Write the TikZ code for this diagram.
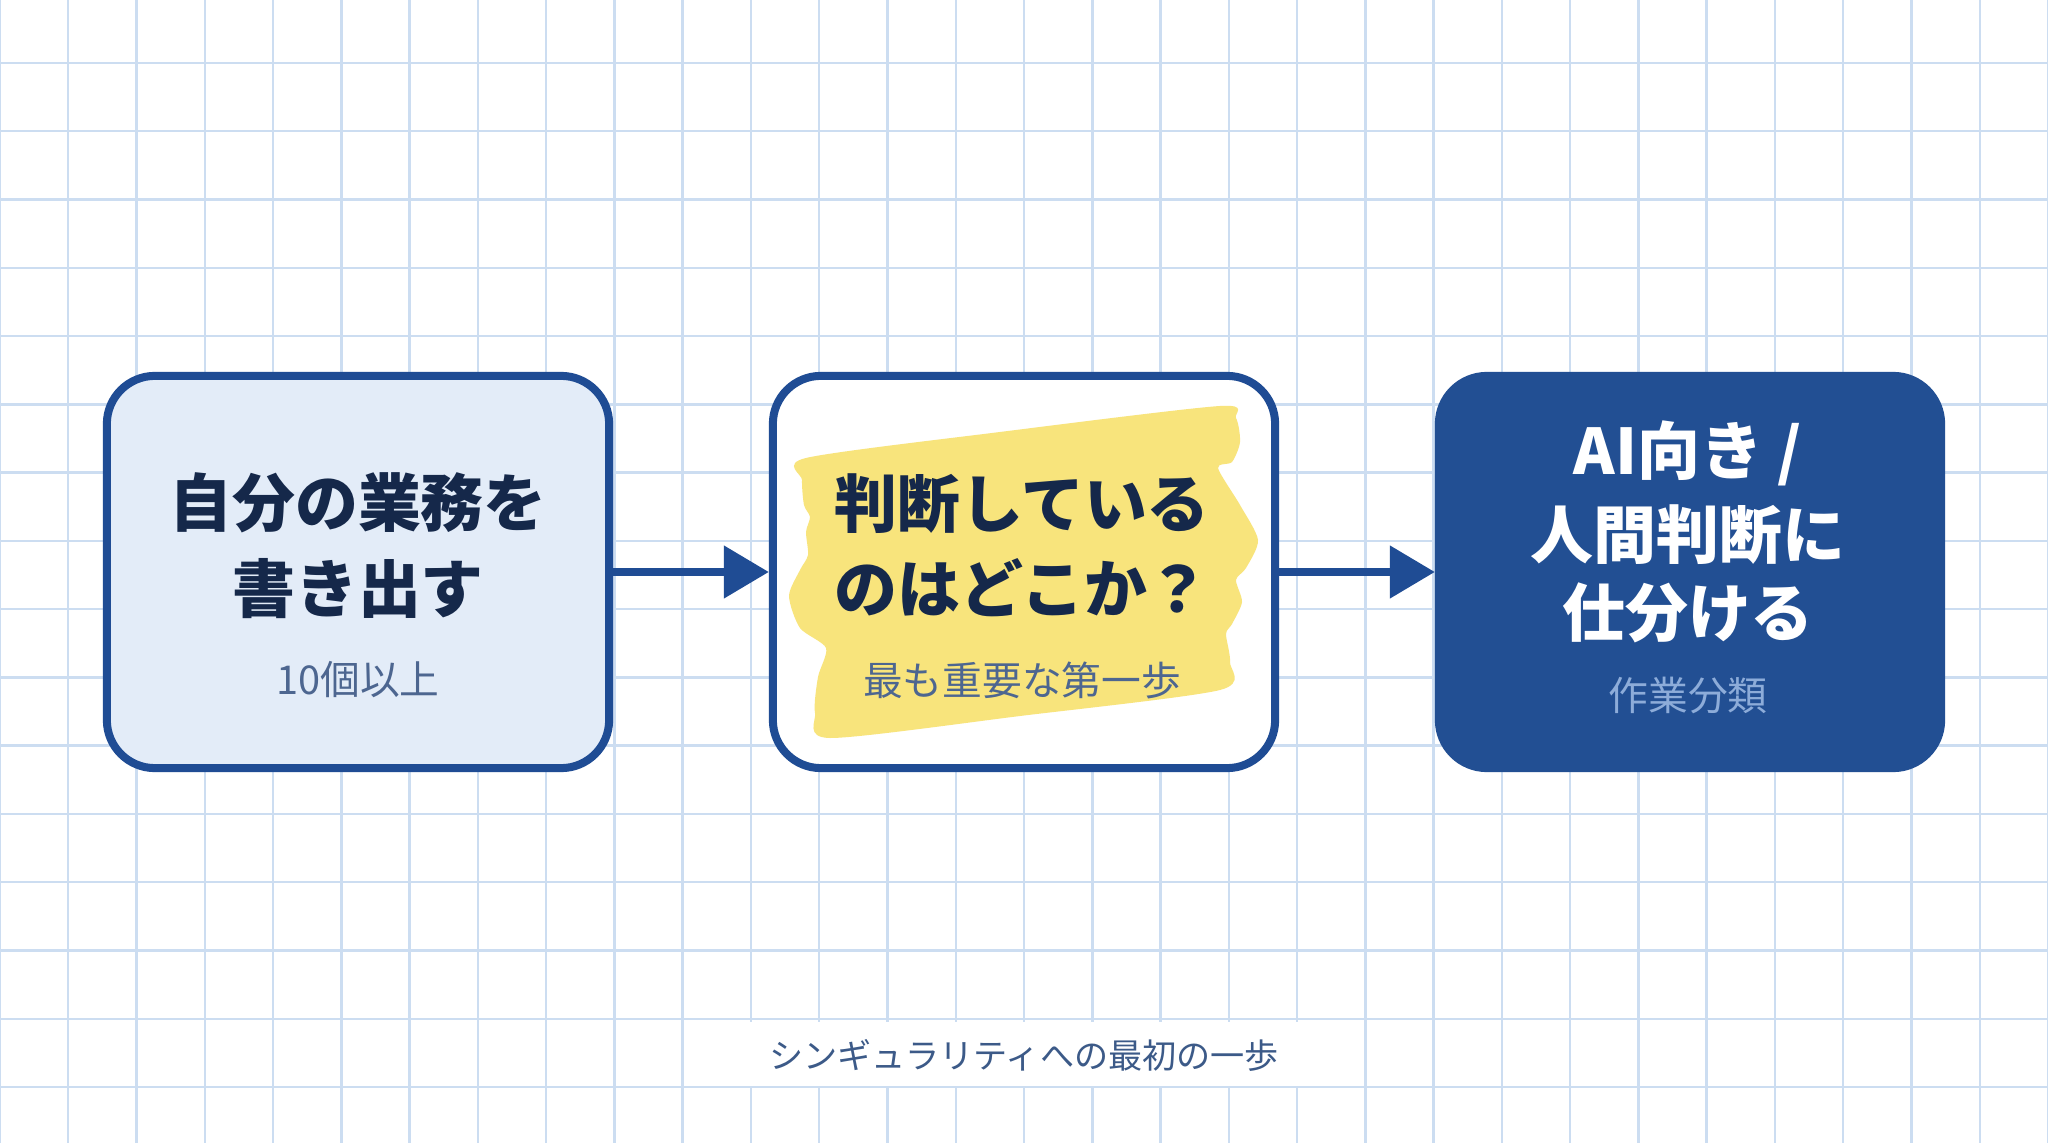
\documentclass[tikz,border=0pt]{standalone}
\usepackage{fontspec}
\setmainfont{Noto Sans CJK JP}
\usetikzlibrary{arrows.meta}
\definecolor{gridc}{HTML}{CCDDF1}
\definecolor{boxline}{HTML}{1F4C94}
\definecolor{box1fill}{HTML}{E3ECF8}
\definecolor{box3fill}{HTML}{224F93}
\definecolor{ink}{HTML}{15284A}
\definecolor{sub1}{HTML}{4D6690}
\definecolor{sub3}{HTML}{8DACD9}
\definecolor{footc}{HTML}{3C5A88}
\definecolor{hl}{HTML}{F8E47C}
\begin{document}
\begin{tikzpicture}[x=0.01cm,y=-0.01cm,
  gridline/.style={draw=gridc, line width=0.7pt},
  box/.style={rectangle, rounded corners=0.48cm, line width=0.08cm, draw=boxline,
    minimum width=5.02cm, minimum height=3.92cm, inner sep=0pt},
  maintext/.style={font=\fontsize{17.9pt}{20pt}\selectfont\bfseries, text=ink, inner sep=0pt},
  subtext/.style={font=\fontsize{11.3pt}{13pt}\selectfont, inner sep=0pt},
  foottext/.style={font=\fontsize{9.7pt}{12pt}\selectfont, text=footc, inner sep=0pt},
  flow/.style={draw=boxline, line width=0.08cm, -{Triangle[length=0.45cm,width=0.51cm]}}
]
\useasboundingbox (0,0) rectangle (2048,1143);
\fill[white] (0,0) rectangle (2048,1143);
\begin{scope}
\clip (0,0) rectangle (2048,1143);
\foreach \k in {0,...,30} {
  \draw[gridline] ({68.267*\k},0) -- ({68.267*\k},1143);
}
\foreach \k in {-1,...,16} {
  \draw[gridline] (0,{63+68.267*\k}) -- (2048,{63+68.267*\k});
}
\end{scope}
% band behind footer
\fill[white] (686,1022) rectangle (1362,1086);

% boxes
\node[box, fill=box1fill] (b1) at (358,572) {};
\node[box, fill=white] (b2) at (1024,572) {};
\node[box, fill=box3fill, draw=box3fill] (b3) at (1690,572) {};

% highlighter
\fill[hl] plot[smooth cycle, tension=0.45] coordinates {
  (806,458) (1000,432) (1220,406) (1236,418) (1240,442) (1232,462) (1218,468)
  (1240,505) (1258,540) (1246,568) (1236,580) (1242,602) (1232,624)
  (1226,634) (1230,662) (1220,690) (1020,716) (830,738) (815,713) (818,677) (826,648)
  (800,628) (789,596) (800,570) (808,555) (806,532) (810,517)
  (804,505) (802,480)};

% texts
\node[maintext] (t1a) at (358,503) {自分の業務を};
\node[maintext] (t1b) at (358,589) {書き出す};
\node[subtext, text=sub1] (t1c) at (358,680) {10個以上};
\node[maintext] (t2a) at (1022,504) {判断している};
\node[maintext] (t2b) at (1022,588) {のはどこか？};
\node[subtext, text=sub1] (t2c) at (1022,680) {最も重要な第一歩};
\node[maintext, text=white] (t3a) at (1688,453) {AI向き /};
\node[maintext, text=white] (t3b) at (1688,535) {人間判断に};
\node[maintext, text=white] (t3c) at (1688,613) {仕分ける};
\node[subtext, text=sub3] (t3d) at (1688,695) {作業分類};
\node[foottext] (foot) at (1024,1055) {シンギュラリティへの最初の一歩};

% connectors
\draw[flow] (b1.east) -- (b2.west);
\draw[flow] (b2.east) -- (b3.west);
\end{tikzpicture}
\end{document}
